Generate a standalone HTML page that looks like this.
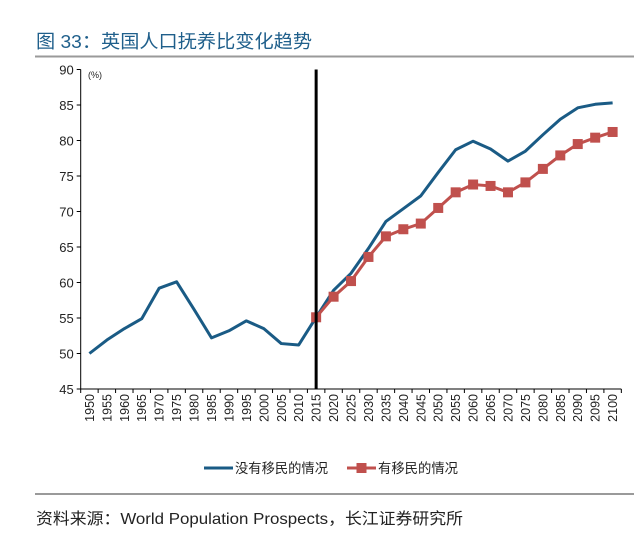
<!DOCTYPE html>
<html><head><meta charset="utf-8"><style>
body{margin:0;background:#fff;width:640px;height:534px;overflow:hidden;font-family:"Liberation Sans","Noto Sans CJK SC",sans-serif}
</style></head><body>
<svg width="640" height="534" xmlns="http://www.w3.org/2000/svg">
<text x="36" y="48" font-size="18.5" fill="#1f5f8b" textLength="276" lengthAdjust="spacingAndGlyphs" font-family="Liberation Sans,Noto Sans CJK SC,sans-serif">图 33：英国人口抚养比变化趋势</text>
<line x1="35" y1="56.5" x2="634" y2="56.5" stroke="#9a9a9a" stroke-width="2"/>
<g id="plot"></g>
<line x1="35" y1="494" x2="634" y2="494" stroke="#9a9a9a" stroke-width="2"/>
<text x="36" y="524" font-size="16" fill="#222" textLength="427" lengthAdjust="spacingAndGlyphs" font-family="Liberation Sans,Noto Sans CJK SC,sans-serif">资料来源：World Population Prospects，长江证券研究所</text>
</svg>
<script>
const years=[1950,1955,1960,1965,1970,1975,1980,1985,1990,1995,2000,2005,2010,2015,2020,2025,2030,2035,2040,2045,2050,2055,2060,2065,2070,2075,2080,2085,2090,2095,2100];
const noMigration=[50.0,51.9,53.5,54.9,59.2,60.1,56.2,52.2,53.2,54.6,53.5,51.4,51.2,55.1,58.9,61.3,64.8,68.6,70.4,72.2,75.5,78.7,79.9,78.8,77.1,78.5,80.8,83.0,84.6,85.1,85.3];
const withMigrationYears=[2015,2020,2025,2030,2035,2040,2045,2050,2055,2060,2065,2070,2075,2080,2085,2090,2095,2100];
const withMigration=[55.1,58.0,60.2,63.6,66.5,67.5,68.3,70.5,72.7,73.8,73.6,72.7,74.1,76.0,77.9,79.5,80.4,81.2];
const yTicks=[45,50,55,60,65,70,75,80,85,90];
const divider=2015;

const NS="http://www.w3.org/2000/svg";
const g=document.getElementById('plot');
const x0=80.7,band=17.44,yTop=69.5,yBot=389,yMin=45,yMax=90;
const xs=yr=>x0+band*(years.indexOf(yr)+0.5);
const ys=v=>yBot-(v-yMin)/(yMax-yMin)*(yBot-yTop);
function mk(t,a){const e=document.createElementNS(NS,t);for(const k in a)e.setAttribute(k,a[k]);g.appendChild(e);return e;}
let e=mk('line',{x1:x0,y1:yTop,x2:x0,y2:yBot,stroke:'#000','stroke-width':1});


e=mk('line',{x1:x0,y1:yBot,x2:x0+band*years.length,y2:yBot,stroke:'#000','stroke-width':1});


yTicks.forEach(v=>{
 const t=mk('line',{x1:x0-4,y1:ys(v),x2:x0,y2:ys(v),stroke:'#000'});
 
 
 const l=mk('text',{x:x0-7,y:ys(v)+5,'font-size':13,'text-anchor':'end',fill:'#222'});l.textContent=v;
 
 
});
e=mk('text',{x:88,y:78,'font-size':9,fill:'#222'});e.textContent='(%)';


for(let i=0;i<=years.length;i++){
 const t=mk('line',{x1:x0+band*i,y1:yBot,x2:x0+band*i,y2:yBot+4,stroke:'#000'});
 
 
}
years.forEach(yr=>{
 const x=xs(yr)+4.5;
 const l=mk('text',{x:x,y:yBot+5,'font-size':12.5,'text-anchor':'end',fill:'#222',transform:`rotate(-90 ${x} ${yBot+5})`});
 l.textContent=yr;
 
 
});
e=mk('polyline',{points:years.map((y,i)=>xs(y)+','+ys(noMigration[i])).join(' '),fill:'none',stroke:'#1a5b85','stroke-width':3,'stroke-linejoin':'round'});


e=mk('polyline',{points:withMigrationYears.map((y,i)=>xs(y)+','+ys(withMigration[i])).join(' '),fill:'none',stroke:'#c0504d','stroke-width':3});


withMigrationYears.forEach((y,i)=>{
 const m=mk('rect',{x:xs(y)-5,y:ys(withMigration[i])-5,width:10,height:10,fill:'#c0504d'});
 
 
});
e=mk('line',{x1:xs(divider),y1:yTop,x2:xs(divider),y2:yBot,stroke:'#000','stroke-width':3});


e=mk('line',{x1:204,y1:468,x2:233,y2:468,stroke:'#1a5b85','stroke-width':3});


e=mk('text',{x:235,y:473,'font-size':13.5,fill:'#222',textLength:93,lengthAdjust:'spacingAndGlyphs'});e.textContent='没有移民的情况';


e=mk('line',{x1:347,y1:468,x2:376,y2:468,stroke:'#c0504d','stroke-width':3});


e=mk('rect',{x:356.5,y:463,width:10,height:10,fill:'#c0504d'});


e=mk('text',{x:378,y:473,'font-size':13.5,fill:'#222',textLength:80,lengthAdjust:'spacingAndGlyphs'});e.textContent='有移民的情况';


</script>
</body></html>
